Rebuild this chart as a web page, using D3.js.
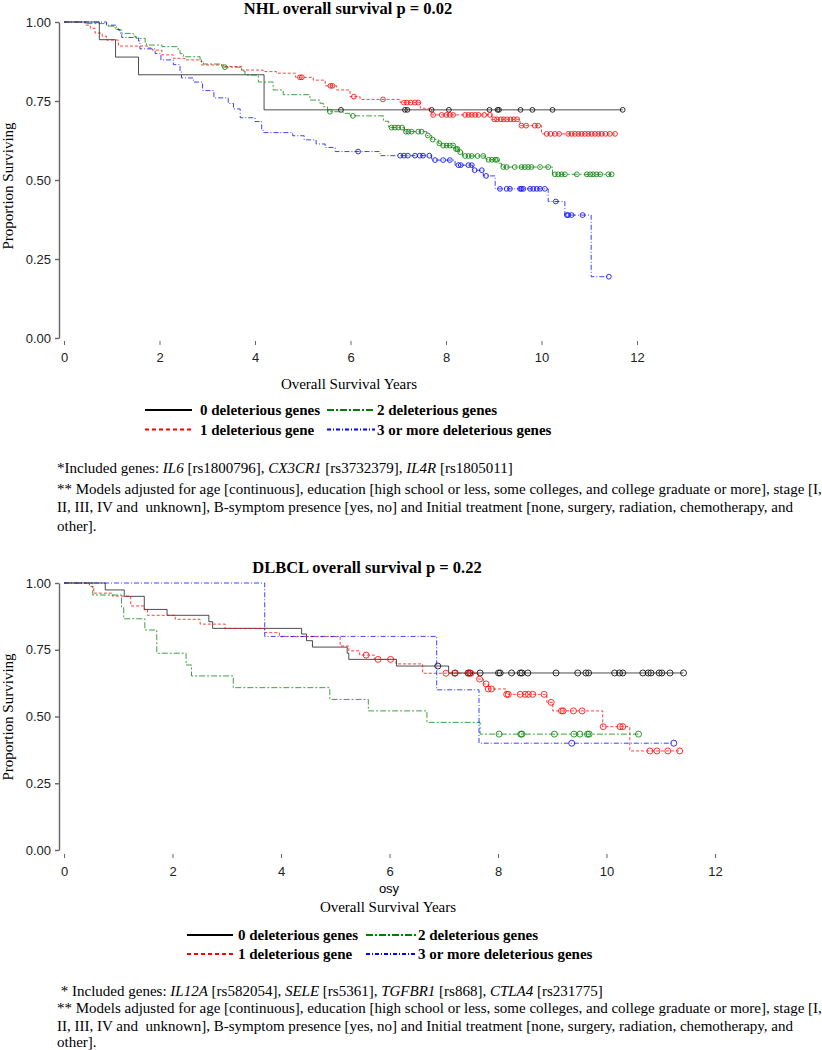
<!DOCTYPE html>
<html><head><meta charset="utf-8">
<script src="https://cdn.jsdelivr.net/npm/d3@7"></script>
<style>
body{margin:0;background:#fff;}
svg{display:block;background:#fff;}
.serif{font-family:"Liberation Serif","Times New Roman",Times,serif;}
.sans{font-family:"Liberation Sans",Arial,Helvetica,sans-serif;}
</style></head><body>
<svg id="chart" width="822" height="1050"></svg>
<script>
// ---------------- DATA ----------------
const seriesNames = ["0 deleterious genes","1 deleterious gene","2 deleterious genes","3 or more deleterious genes"];
const seriesColors = ["#000000","#ff0000","#008000","#0000ff"];
const xTicks = [0,2,4,6,8,10,12];
const yTicks = [0,0.25,0.5,0.75,1];

// NHL panel
const nhl0Time = [0,0.74,1.08,1.56,4.19];
const nhl0Surv = [1,0.944,0.889,0.833,0.722];
const nhl0Censor = [5.80,7.14,7.19,7.70,8.06,8.91,9.08,9.11,9.56,9.81,10.23,11.70];

const nhl1Time = [0,0.44,0.55,0.65,0.80,0.89,1.14,1.75,1.85,2.05,2.29,2.53,2.88,3.37,3.72,4.17,4.45,4.85,5.22,5.47,5.71,5.99,6.20,7.04,7.46,7.70,8.96,9.55,10.0];
const nhl1Surv = [1,0.99,0.98,0.965,0.955,0.943,0.924,0.918,0.911,0.896,0.885,0.88,0.864,0.859,0.848,0.843,0.838,0.825,0.816,0.798,0.785,0.764,0.755,0.745,0.727,0.706,0.692,0.672,0.646];
const nhl1Censor = [4.94,4.98,5.58,5.62,6.07,6.68,7.12,7.18,7.26,7.35,7.42,7.73,7.91,8.01,8.08,8.15,8.40,8.47,8.54,8.61,8.68,8.80,8.92,9.01,9.07,9.15,9.21,9.28,9.35,9.42,9.49,9.58,9.68,9.86,9.93,10.11,10.19,10.28,10.37,10.56,10.63,10.70,10.77,10.84,10.91,10.98,11.05,11.12,11.19,11.26,11.34,11.43,11.54];

const nhl2Time = [0,0.47,0.89,1.07,1.14,1.21,1.45,1.51,1.70,1.73,2.05,2.39,2.43,2.50,2.85,2.92,3.30,3.72,3.79,4.07,4.38,4.59,5.15,5.36,5.43,5.52,5.85,5.98,6.69,6.80,7.13,7.60,7.70,7.84,7.91,8.19,8.28,8.35,8.82,9.10,9.16,10.23];
const nhl2Surv = [1,0.995,0.987,0.98,0.975,0.964,0.955,0.948,0.935,0.927,0.922,0.91,0.90,0.890,0.875,0.867,0.857,0.845,0.832,0.81,0.785,0.770,0.753,0.743,0.732,0.716,0.711,0.703,0.686,0.666,0.653,0.641,0.628,0.616,0.609,0.598,0.588,0.576,0.564,0.553,0.541,0.518];
const nhl2Censor = [3.37,5.57,6.05,6.86,6.93,7.00,7.08,7.16,7.21,7.28,7.42,7.49,7.62,7.72,7.86,7.94,8.01,8.08,8.15,8.21,8.24,8.30,8.40,8.47,8.54,8.66,8.78,8.89,8.96,9.03,9.07,9.20,9.27,9.44,9.58,9.65,9.72,9.79,9.97,10.14,10.28,10.35,10.42,10.49,10.74,10.95,11.02,11.08,11.15,11.23,11.40,11.47];

const nhl3Time = [0,0.89,1.10,1.17,1.21,1.56,1.59,1.91,2.03,2.29,2.43,2.46,2.71,2.90,3.14,3.44,3.55,3.69,4.00,4.14,4.17,4.79,5.03,5.28,5.47,5.68,6.62,7.70,8.19,8.56,8.78,9.03,10.14,10.49,11.04];
const nhl3Surv = [1,0.99,0.976,0.965,0.951,0.94,0.915,0.90,0.88,0.865,0.845,0.823,0.81,0.783,0.76,0.742,0.725,0.697,0.685,0.658,0.650,0.64,0.627,0.614,0.603,0.590,0.577,0.563,0.547,0.531,0.513,0.472,0.432,0.389,0.194];
const nhl3Censor = [6.16,7.04,7.12,7.20,7.35,7.45,7.52,7.65,7.77,7.94,8.08,8.26,8.31,8.47,8.54,8.60,8.75,8.84,9.13,9.27,9.34,9.55,9.58,9.62,9.76,9.83,9.90,9.97,10.07,10.30,10.53,10.56,10.63,10.86,11.41];

// DLBCL panel
const dl0Time = [0,0.76,1.11,1.48,1.90,2.67,2.74,4.38,4.47,4.58,5.22,5.25,6.13,7.09];
const dl0Surv = [1,0.974,0.950,0.901,0.879,0.855,0.830,0.809,0.784,0.760,0.737,0.714,0.689,0.663];
const dl0Censor = [6.89,7.21,7.45,7.48,7.67,8.01,8.04,8.25,8.41,8.44,8.55,9.07,9.47,9.62,9.67,10.15,10.24,10.30,10.67,10.77,10.82,10.97,11.02,11.17,11.42];

const dl1Time = [0,0.47,0.55,0.89,1.23,1.48,1.54,2.05,2.51,2.97,3.70,3.97,5.09,5.25,5.45,5.72,6.12,6.61,7.64,7.73,7.82,8.15,8.90,9.01,9.93,10.43];
const dl1Surv = [1,0.987,0.962,0.951,0.914,0.899,0.879,0.864,0.846,0.830,0.814,0.799,0.764,0.746,0.730,0.714,0.697,0.662,0.640,0.622,0.603,0.583,0.553,0.521,0.462,0.371];
const dl1Censor = [5.57,5.79,6.02,7.04,7.20,7.45,7.50,7.66,7.78,7.82,7.88,8.16,8.19,8.41,8.50,8.56,8.64,8.85,8.98,9.17,9.20,9.39,9.55,9.94,10.25,10.30,10.80,10.93,11.13,11.35];

const dl2Time = [0,0.53,1.06,1.10,1.49,1.71,2.25,2.35,3.12,4.90,5.61,6.69,7.67];
const dl2Surv = [1,0.955,0.910,0.866,0.824,0.737,0.693,0.652,0.608,0.564,0.521,0.478,0.434];
const dl2Censor = [8.02,8.42,8.44,9.04,9.40,9.51,9.65,9.68,10.59];

const dl3Time = [0,3.70,6.87,7.65];
const dl3Surv = [1,0.80,0.60,0.40];
const dl3Censor = [9.36,11.24];

const nhlTitle = "NHL overall survival p = 0.02";
const dlTitle = "DLBCL overall survival p = 0.22";
const footCommon = [
  "** Models adjusted for age [continuous], education [high school or less, some colleges, and college graduate or more], stage [I,",
  "II, III, IV and  unknown], B-symptom presence [yes, no] and Initial treatment [none, surgery, radiation, chemotherapy, and",
  "other]."
];
const nhlGenes = [["*Included genes: ",0],["IL6",1],[" [rs1800796], ",0],["CX3CR1",1],[" [rs3732379], ",0],["IL4R",1],[" [rs1805011]",0]];
const dlGenes = [[" * Included genes: ",0],["IL12A",1],[" [rs582054], ",0],["SELE",1],[" [rs5361], ",0],["TGFBR1",1],[" [rs868], ",0],["CTLA4",1],[" [rs231775]",0]];

// ---------------- DRAW ----------------
const svg = d3.select("#chart");
const lineDash = ["none","3,2","6,2,2,2","5,2,1,2"];
const legDash = ["none","4,3","7,2,2,2","4,2,1,2"];

function drawPanel(o){
  const x = d3.scaleLinear().domain([0,12]).range(o.xr);
  const y = d3.scaleLinear().domain([0,1]).range(o.yr);
  const g = svg.append("g");

  // title
  g.append("text").attr("class","serif").attr("x",o.titleX).attr("y",o.titleY)
    .attr("text-anchor","middle").attr("font-size","16.5px").attr("font-weight","bold").text(o.title);

  // y axis
  const ya = g.append("g").attr("transform",`translate(${o.yAxisX},0)`)
    .call(d3.axisLeft(y).tickValues(yTicks).tickFormat(d3.format(".2f")).tickSize(4).tickSizeOuter(0).tickPadding(4));
  ya.selectAll("path,line").attr("stroke","#666").attr("stroke-width",1.4);
  ya.selectAll("text").attr("class","sans").attr("font-size","13px").attr("fill","#222");

  // x axis (ticks only)
  const xa = g.append("g").attr("transform",`translate(0,${o.xAxisY})`)
    .call(d3.axisBottom(x).tickValues(xTicks).tickFormat(d3.format("d")).tickSize(4).tickPadding(o.xPad));
  xa.select(".domain").remove();
  xa.selectAll("line").attr("stroke","#666").attr("stroke-width",1);
  xa.selectAll("text").attr("class","sans").attr("font-size","13px").attr("fill","#222");

  // y label
  g.append("text").attr("class","serif").attr("font-size","15px")
    .attr("transform",`translate(${o.yLabX},${o.yLabY}) rotate(-90)`).attr("text-anchor","middle")
    .text("Proportion Surviving");
  // x label(s)
  if(o.osy){
    g.append("text").attr("class","sans").attr("font-size","13px").attr("text-anchor","middle")
      .attr("x",o.osy[0]).attr("y",o.osy[1]).text("osy");
  }
  g.append("text").attr("class","serif").attr("font-size","15px").attr("text-anchor","middle")
    .attr("x",o.xLabX).attr("y",o.xLabY).text("Overall Survival Years");

  // curves
  o.series.forEach((s,i)=>{
    const pts = s.t.map((t,k)=>[t,s.s[k]]);
    const end = Math.max(s.t[s.t.length-1], d3.max(s.c)||0);
    pts.push([end, s.s[s.s.length-1]]);
    const line = d3.line().x(d=>x(d[0])).y(d=>y(d[1])).curve(d3.curveStepAfter);
    g.append("path").attr("d",line(pts)).attr("fill","none")
      .attr("stroke",seriesColors[i]).attr("stroke-width",1).attr("stroke-opacity",i===0?0.7:0.75)
      .attr("stroke-dasharray",lineDash[i]);
    const lookup = t => s.s[Math.max(0,d3.bisectRight(s.t,t)-1)];
    g.append("g").selectAll("circle").data(s.c).join("circle")
      .attr("cx",d=>x(d)).attr("cy",d=>y(lookup(d))).attr("r",o.r)
      .attr("fill","none").attr("stroke",seriesColors[i]).attr("stroke-width",1).attr("stroke-opacity",0.8);
  });

  // legend
  const order = [[0,0,0],[2,1,0],[1,0,1],[3,1,1]];
  order.forEach(([si,col,row])=>{
    const ly = o.legRows[row];
    const [x1,x2,tx] = o.legCols[col];
    g.append("line").attr("x1",x1).attr("x2",x2).attr("y1",ly).attr("y2",ly)
      .attr("stroke",seriesColors[si]).attr("stroke-width",2).attr("stroke-dasharray",legDash[si]);
    g.append("text").attr("class","serif").attr("font-size","15px").attr("font-weight","bold")
      .attr("x",tx).attr("y",ly+5).text(seriesNames[si]);
  });

  // footnotes
  const f1 = g.append("text").attr("class","serif").attr("font-size","15px")
    .attr("x",o.footX[0]).attr("y",o.footY[0]).style("white-space","pre");
  o.genes.forEach(([txt,it])=>{
    f1.append("tspan").attr("font-style",it?"italic":"normal").text(txt);
  });
  footCommon.forEach((txt,k)=>{
    g.append("text").attr("class","serif").attr("font-size","15px").style("white-space","pre")
      .attr("x",o.footX[1]).attr("y",o.footY[k+1]).text(txt);
  });
}

drawPanel({
  title:nhlTitle, titleX:348, titleY:14,
  xr:[64,637], yr:[338,22], yAxisX:59, xAxisY:341, xPad:8,
  yLabX:13, yLabY:186, xLabX:349, xLabY:389, osy:null,
  r:2.4,
  series:[
    {t:nhl0Time,s:nhl0Surv,c:nhl0Censor},
    {t:nhl1Time,s:nhl1Surv,c:nhl1Censor},
    {t:nhl2Time,s:nhl2Surv,c:nhl2Censor},
    {t:nhl3Time,s:nhl3Surv,c:nhl3Censor}
  ],
  legRows:[410,429.5], legCols:[[145,192,200],[327,375,377]],
  genes:nhlGenes, footX:[57,57], footY:[473,494,512,531]
});

drawPanel({
  title:dlTitle, titleX:367, titleY:573,
  xr:[64,715], yr:[850,583], yAxisX:59, xAxisY:854, xPad:9,
  yLabX:13, yLabY:717, xLabX:388, xLabY:912, osy:[389,893],
  r:3,
  series:[
    {t:dl0Time,s:dl0Surv,c:dl0Censor},
    {t:dl1Time,s:dl1Surv,c:dl1Censor},
    {t:dl2Time,s:dl2Surv,c:dl2Censor},
    {t:dl3Time,s:dl3Surv,c:dl3Censor}
  ],
  legRows:[935,954], legCols:[[187,233,238],[366,416,418]],
  genes:dlGenes, footX:[57,57], footY:[996,1013,1031,1047]
});
</script></body></html>
